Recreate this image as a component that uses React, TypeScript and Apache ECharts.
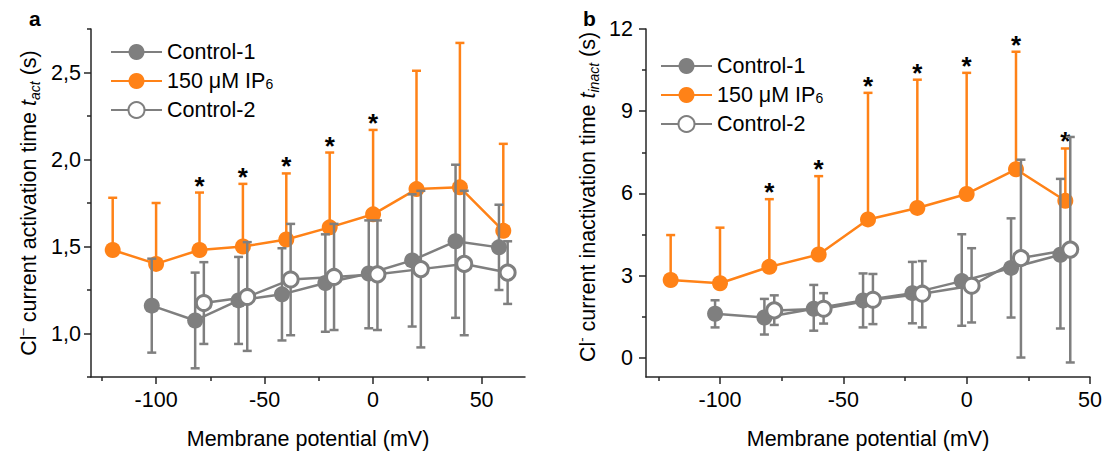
import React, { useEffect, useRef } from 'react';
import * as echarts from 'echarts';

const FONT = "'Liberation Sans', Arial, Helvetica, sans-serif";
const ORANGE = '#ff8217';
const GRAY = '#7f7f7f';
const AXIS = '#262626';
const FS = 21.5;

const SERIES_NAMES = ['Control-1', '150 μM IP6', 'Control-2'];

// ---------- Panel a: activation time (s) ----------
const ip6A_x = [-120, -100, -80, -60, -40, -20, 0, 20, 40, 60];
const ip6A_mean = [1.48, 1.40, 1.48, 1.50, 1.54, 1.61, 1.685, 1.83, 1.84, 1.59];
const ip6A_top = [1.78, 1.75, 1.81, 1.86, 1.92, 2.04, 2.17, 2.51, 2.67, 2.09];
const ip6A_star = [0, 0, 1, 1, 1, 1, 1, 0, 0, 0];

const c1A_x = [-102, -82, -62, -42, -22, -2, 18, 38, 58];
const c1A_mean = [1.16, 1.075, 1.19, 1.225, 1.29, 1.345, 1.42, 1.53, 1.495];
const c1A_low = [0.89, 0.80, 0.94, 0.96, 1.01, 1.03, 1.04, 1.09, 1.25];
const c1A_high = [1.43, 1.35, 1.44, 1.49, 1.57, 1.65, 1.80, 1.97, 1.74];

const c2A_x = [-78, -58, -38, -18, 2, 22, 42, 62];
const c2A_mean = [1.175, 1.21, 1.31, 1.325, 1.34, 1.37, 1.40, 1.35];
const c2A_low = [0.94, 0.90, 0.99, 1.02, 1.02, 0.92, 0.99, 1.17];
const c2A_high = [1.41, 1.525, 1.63, 1.63, 1.65, 1.82, 1.82, 1.53];

const yTicksA = [1.0, 1.5, 2.0, 2.5];
const yMinorA = [0.75, 1.25, 1.75, 2.25, 2.75];
const xTicksA = [-100, -50, 0, 50];
const xMinorA = [-125, -75, -25, 25];

// ---------- Panel b: inactivation time (s) ----------
const ip6B_x = [-120, -100, -80, -60, -40, -20, 0, 20, 40];
const ip6B_mean = [2.84, 2.72, 3.32, 3.77, 5.05, 5.47, 5.98, 6.88, 5.73];
const ip6B_top = [4.48, 4.75, 5.79, 6.63, 9.67, 10.15, 10.40, 11.17, 7.64];
const ip6B_star = [0, 0, 1, 1, 1, 1, 1, 1, 1];

const c1B_x = [-102, -82, -62, -42, -22, -2, 18, 38];
const c1B_mean = [1.61, 1.47, 1.79, 2.09, 2.36, 2.80, 3.28, 3.76];
const c1B_low = [1.11, 0.85, 0.99, 1.11, 1.26, 1.17, 1.47, 1.07];
const c1B_high = [2.10, 2.15, 2.66, 3.08, 3.50, 4.51, 5.09, 6.53];

const c2B_x = [-78, -58, -38, -18, 2, 22, 42];
const c2B_mean = [1.73, 1.79, 2.12, 2.34, 2.63, 3.64, 3.95];
const c2B_low = [1.20, 1.25, 1.23, 1.11, 1.29, 0.01, -0.17];
const c2B_high = [2.28, 2.36, 3.06, 3.53, 4.00, 7.23, 8.06];

const yTicksB = [0, 3, 6, 9, 12];
const yMinorB = [1.5, 4.5, 7.5, 10.5];
const xTicksB = [-100, -50, 0, 50];
const xMinorB = [-125, -75, -25, 25];

const zip = (xs: number[], ys: number[]) => xs.map((x, i) => [x, ys[i]]);

function errSeries(
  name: string,
  xAxisIndex: number,
  yAxisIndex: number,
  xs: number[],
  lows: number[],
  highs: number[],
  stars: number[] | null,
  color: string,
  twoSided: boolean,
  z: number
) {
  return {
    type: 'custom',
    name: name + ' err',
    xAxisIndex,
    yAxisIndex,
    z,
    silent: true,
    clip: false,
    encode: { x: 0, y: [1, 2] },
    data: xs.map((x, i) => [x, lows[i], highs[i], stars ? stars[i] : 0]),
    renderItem: (params: any, api: any) => {
      const x = api.value(0);
      const pLo = api.coord([x, api.value(1)]);
      const pHi = api.coord([x, api.value(2)]);
      const hw = 4.5;
      const st = { stroke: color, lineWidth: 2.5, fill: null };
      const children: any[] = [
        { type: 'line', shape: { x1: pLo[0], y1: pLo[1], x2: pHi[0], y2: pHi[1] }, style: st },
        { type: 'line', shape: { x1: pHi[0] - hw, y1: pHi[1], x2: pHi[0] + hw, y2: pHi[1] }, style: st },
      ];
      if (twoSided) {
        children.push({ type: 'line', shape: { x1: pLo[0] - hw, y1: pLo[1], x2: pLo[0] + hw, y2: pLo[1] }, style: st });
      }
      if (api.value(3) === 1) {
        children.push({
          type: 'text',
          x: pHi[0],
          y: pHi[1] - 7,
          style: {
            text: '*',
            fontSize: 26,
            fontWeight: 'bold',
            fontFamily: FONT,
            fill: '#000',
            align: 'center',
            verticalAlign: 'middle',
          },
        });
      }
      return { type: 'group', children };
    },
  };
}

function lineSeries(
  name: string,
  xAxisIndex: number,
  yAxisIndex: number,
  xs: number[],
  ys: number[],
  color: string,
  hollow: boolean,
  z: number
) {
  return {
    type: 'line',
    name,
    xAxisIndex,
    yAxisIndex,
    z,
    data: zip(xs, ys),
    symbol: 'circle',
    symbolSize: hollow ? 15 : 16,
    showSymbol: true,
    lineStyle: { color, width: 2.5 },
    itemStyle: hollow
      ? { color: '#ffffff', borderColor: color, borderWidth: 3 }
      : { color, borderWidth: 0 },
    emphasis: { disabled: true },
  };
}

const baseText = { fontFamily: FONT, color: '#000' };

function mainX(gridIndex: number, min: number, max: number, ticks: number[]) {
  return {
    type: 'value',
    gridIndex,
    min,
    max,
    position: 'bottom',
    name: 'Membrane potential (mV)',
    nameLocation: 'middle',
    nameGap: 51,
    nameTextStyle: { ...baseText, fontSize: FS },
    axisLine: { show: true, onZero: false, lineStyle: { color: AXIS, width: 1.5 } },
    axisTick: { show: true, inside: false, length: 7, customValues: ticks, lineStyle: { color: AXIS, width: 1.5 } },
    axisLabel: { show: true, margin: 12, customValues: ticks, ...baseText, fontSize: FS },
    splitLine: { show: false },
  };
}

function minorX(gridIndex: number, min: number, max: number, ticks: number[]) {
  return {
    type: 'value',
    gridIndex,
    min,
    max,
    position: 'bottom',
    axisLine: { show: false, onZero: false },
    axisTick: { show: true, inside: false, length: 4, customValues: ticks, lineStyle: { color: AXIS, width: 1.5 } },
    axisLabel: { show: false },
    splitLine: { show: false },
  };
}

function mainY(
  gridIndex: number,
  min: number,
  max: number,
  ticks: number[],
  name: string,
  nameGap: number,
  fmt: (v: number) => string,
  margin: number,
  namePadding: number[]
) {
  return {
    type: 'value',
    gridIndex,
    min,
    max,
    position: 'left',
    name,
    nameLocation: 'middle',
    nameGap,
    nameRotate: 90,
    nameTextStyle: {
      ...baseText,
      fontSize: FS,
      lineHeight: 26,
      padding: namePadding,
      rich: {
        sup: { fontFamily: FONT, color: '#000', fontSize: 13, lineHeight: 13, verticalAlign: 'top' },
        it: { fontFamily: FONT, color: '#000', fontSize: FS, lineHeight: 26, fontStyle: 'italic' },
        sub: { fontFamily: FONT, color: '#000', fontSize: 14, lineHeight: 14, fontStyle: 'italic', verticalAlign: 'bottom' },
      },
    },
    axisLine: { show: true, onZero: false, lineStyle: { color: AXIS, width: 1.5 } },
    axisTick: { show: true, inside: false, length: 7, customValues: ticks, lineStyle: { color: AXIS, width: 1.5 } },
    axisLabel: { show: true, margin, customValues: ticks, formatter: fmt, ...baseText, fontSize: FS },
    splitLine: { show: false },
  };
}

function minorY(gridIndex: number, min: number, max: number, ticks: number[]) {
  return {
    type: 'value',
    gridIndex,
    min,
    max,
    position: 'left',
    axisLine: { show: false, onZero: false },
    axisTick: { show: true, inside: false, length: 4, customValues: ticks, lineStyle: { color: AXIS, width: 1.5 } },
    axisLabel: { show: false },
    splitLine: { show: false },
  };
}

function legend(left: number, top: number) {
  return {
    data: SERIES_NAMES,
    orient: 'vertical',
    left,
    top,
    padding: 0,
    itemWidth: 51,
    itemHeight: 20,
    itemGap: 7,
    selectedMode: false,
    formatter: (n: string) => (n === '150 μM IP6' ? '150 μM IP{sub|6}' : n),
    textStyle: {
      ...baseText,
      fontSize: FS,
      lineHeight: 20,
      rich: {
        sub: { fontFamily: FONT, color: '#000', fontSize: 14, lineHeight: 14, verticalAlign: 'bottom' },
      },
    },
  };
}

const option: any = {
  animation: false,
  backgroundColor: '#ffffff',
  textStyle: { fontFamily: FONT },
  grid: [
    { left: 91, right: 580, top: 29, bottom: 72, containLabel: false },
    { left: 646, right: 15, top: 29, bottom: 72, containLabel: false },
  ],
  xAxis: [
    mainX(0, -130, 70, xTicksA),
    minorX(0, -130, 70, xMinorA),
    mainX(1, -130, 50, xTicksB),
    minorX(1, -130, 50, xMinorB),
  ],
  yAxis: [
    mainY(
      0, 0.75, 2.75, yTicksA,
      'Cl{sup|–} current activation time {it|t}{sub|act} (s)',
      49,
      (v: number) => v.toFixed(1).replace('.', ','),
      10,
      [0, 0, 0, 0]
    ),
    minorY(0, 0.75, 2.75, yMinorA),
    mainY(
      1, -0.7, 12, yTicksB,
      'Cl{sup|-} current inactivation time {it|t}{sub|inact} (s)',
      45,
      (v: number) => String(v),
      13,
      [0, 0, 0, 12]
    ),
    minorY(1, -0.7, 12, yMinorB),
  ],
  legend: [legend(110, 41), legend(660, 55)],
  graphic: [
    { type: 'text', left: 29, top: 8, style: { text: 'a', fontSize: 21, fontWeight: 'bold', fontFamily: FONT, fill: '#000' } },
    { type: 'text', left: 583, top: 8, style: { text: 'b', fontSize: 21, fontWeight: 'bold', fontFamily: FONT, fill: '#000' } },
  ],
  series: [
    // panel a
    errSeries('150 μM IP6', 0, 0, ip6A_x, ip6A_mean, ip6A_top, ip6A_star, ORANGE, false, 2),
    lineSeries('150 μM IP6', 0, 0, ip6A_x, ip6A_mean, ORANGE, false, 3),
    errSeries('Control-1', 0, 0, c1A_x, c1A_low, c1A_high, null, GRAY, true, 4),
    lineSeries('Control-1', 0, 0, c1A_x, c1A_mean, GRAY, false, 5),
    errSeries('Control-2', 0, 0, c2A_x, c2A_low, c2A_high, null, GRAY, true, 6),
    lineSeries('Control-2', 0, 0, c2A_x, c2A_mean, GRAY, true, 7),
    // panel b
    errSeries('150 μM IP6', 2, 2, ip6B_x, ip6B_mean, ip6B_top, ip6B_star, ORANGE, false, 2),
    lineSeries('150 μM IP6', 2, 2, ip6B_x, ip6B_mean, ORANGE, false, 3),
    errSeries('Control-1', 2, 2, c1B_x, c1B_low, c1B_high, null, GRAY, true, 4),
    lineSeries('Control-1', 2, 2, c1B_x, c1B_mean, GRAY, false, 5),
    errSeries('Control-2', 2, 2, c2B_x, c2B_low, c2B_high, null, GRAY, true, 6),
    lineSeries('Control-2', 2, 2, c2B_x, c2B_mean, GRAY, true, 7),
  ],
};

export default function App() {
  const ref = useRef<HTMLDivElement>(null);
  useEffect(() => {
    const chart = echarts.init(ref.current as HTMLDivElement, null, { renderer: 'svg' });
    chart.setOption(option);
    return () => chart.dispose();
  }, []);
  return (
    <div
      ref={ref}
      style={{ position: 'fixed', left: 0, top: 0, width: 1105, height: 455, background: '#fff' }}
    />
  );
}
